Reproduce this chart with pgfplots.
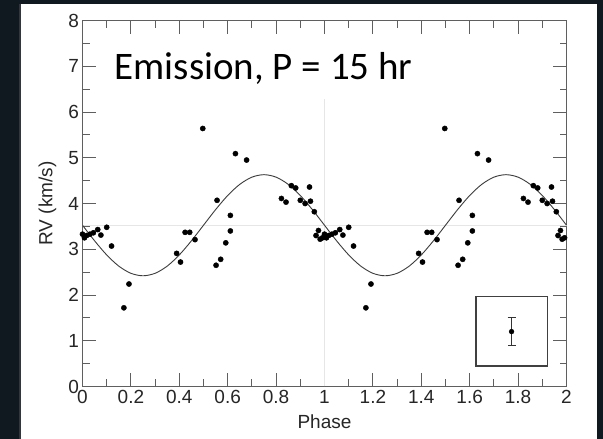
\documentclass[border=0pt]{standalone}
\usepackage{pgfplots}
\pgfplotsset{compat=1.18}
\usepackage{fontspec}
\setmainfont{Liberation Sans}
\newfontfamily\calibri{Carlito}
\definecolor{frame}{RGB}{16,24,32}
\definecolor{axgray}{RGB}{95,95,95}
\definecolor{gridc}{RGB}{230,230,230}
\definecolor{curvec}{RGB}{60,60,60}

\pgfplotstableread{
x y
0.000 3.33
0.008 3.25
0.017 3.30
0.031 3.33
0.045 3.36
0.063 3.43
0.076 3.31
0.100 3.48
0.120 3.07
0.171 1.72
0.192 2.24
0.389 2.91
0.405 2.72
0.424 3.37
0.443 3.37
0.465 3.21
0.497 5.64
0.552 2.65
0.556 4.07
0.571 2.78
0.592 3.14
0.611 3.40
0.611 3.74
0.632 5.09
0.678 4.95
0.822 4.11
0.841 4.03
0.863 4.39
0.881 4.34
0.900 4.07
0.920 4.00
0.938 4.36
0.942 4.05
0.958 3.82
0.965 3.30
0.975 3.41
0.982 3.22
0.992 3.25
1.000 3.33
1.008 3.25
1.017 3.30
1.031 3.33
1.045 3.36
1.063 3.43
1.076 3.31
1.100 3.48
1.120 3.07
1.171 1.72
1.192 2.24
1.389 2.91
1.405 2.72
1.424 3.37
1.443 3.37
1.465 3.21
1.497 5.64
1.552 2.65
1.556 4.07
1.571 2.78
1.592 3.14
1.611 3.40
1.611 3.74
1.632 5.09
1.678 4.95
1.822 4.11
1.841 4.03
1.863 4.39
1.881 4.34
1.900 4.07
1.920 4.00
1.938 4.36
1.942 4.05
1.958 3.82
1.965 3.30
1.975 3.41
1.982 3.22
1.992 3.25
}\rvdata

\pgfplotstableread{
x y
0.00 3.525
0.05 3.184
0.10 2.876
0.15 2.631
0.20 2.474
0.25 2.420
0.30 2.474
0.35 2.631
0.40 2.876
0.45 3.184
0.50 3.525
0.55 3.866
0.60 4.175
0.65 4.419
0.70 4.576
0.75 4.630
0.80 4.576
0.85 4.419
0.90 4.175
0.95 3.866
1.00 3.525
1.05 3.184
1.10 2.876
1.15 2.631
1.20 2.474
1.25 2.420
1.30 2.474
1.35 2.631
1.40 2.876
1.45 3.184
1.50 3.525
1.55 3.866
1.60 4.175
1.65 4.419
1.70 4.576
1.75 4.630
1.80 4.576
1.85 4.419
1.90 4.175
1.95 3.866
2.00 3.525
}\fitdata

\begin{document}
\begin{tikzpicture}
\fill[white] (-82.5pt,-52.5pt) rectangle (520.5pt,386.5pt);
\fill[frame] (-82.5pt,-52.5pt) rectangle (-61.5pt,386.5pt);
\fill[frame!70!gray] (-63pt,-52.5pt) rectangle (-61.5pt,386.5pt);
\fill[frame] (-82.5pt,382.5pt) rectangle (520.5pt,386.5pt);
\fill[frame] (514.5pt,-52.5pt) rectangle (520.5pt,386.5pt);
\begin{axis}[
  scale only axis, width=484pt, height=366pt,
  xmin=0, xmax=2, ymin=0, ymax=8,
  clip=false,
  xtick={0,0.2,0.4,0.6,0.8,1,1.2,1.4,1.6,1.8,2},
  xticklabels={0,0.2,0.4,0.6,0.8,1,1.2,1.4,1.6,1.8,2},
  ytick={0,1,2,3,4,5,6,7,8},
  yticklabels={0,1,2,3,4,5,6,7,8},
  minor x tick num=1, minor y tick num=1,
  tick align=inside,
  major tick length=13pt, minor tick length=7pt,
  tick style={axgray, line width=0.9pt},
  axis line style={axgray, line width=1.3pt},
  tick label style={font=\fontsize{19}{22}\selectfont, text=black!85},
  xlabel={Phase}, ylabel={RV (km/s)},
  label style={font=\fontsize{19}{22}\selectfont, text=black!85},
  xlabel style={at={(axis description cs:0.5,0)}, anchor=center, yshift=-35.5pt},
  ylabel style={at={(axis description cs:0,0.5)}, anchor=center, rotate=0, yshift=35pt},
]
\draw[gridc, line width=1pt] (axis cs:0,3.52) -- (axis cs:2,3.52);
\draw[gridc, line width=1pt] (axis cs:1,0) -- (axis cs:1,6.28);
\addplot[curvec, line width=0.9pt, smooth, no marks] table[x=x,y=y] {\fitdata};
\addplot[only marks, mark=*, mark size=2.6pt, black] table[x=x,y=y] {\rvdata};
\draw[black!75, line width=1.3pt] (axis cs:1.626,0.45) rectangle (axis cs:1.922,1.965);
\addplot[only marks, mark=*, mark size=2.4pt, black,
  error bars/.cd, y dir=both, y explicit,
  error bar style={line width=0.8pt, black!80},
  error mark options={rotate=90, mark size=4pt, line width=0.8pt, black!80}]
  coordinates {(1.773,1.20) +- (0,0.30)};
\end{axis}
\node[anchor=base west, inner sep=0pt, font=\calibri\fontsize{39}{44}\selectfont] at (32pt,306.5pt) {Emission, P = 15 hr};
\end{tikzpicture}
\end{document}
